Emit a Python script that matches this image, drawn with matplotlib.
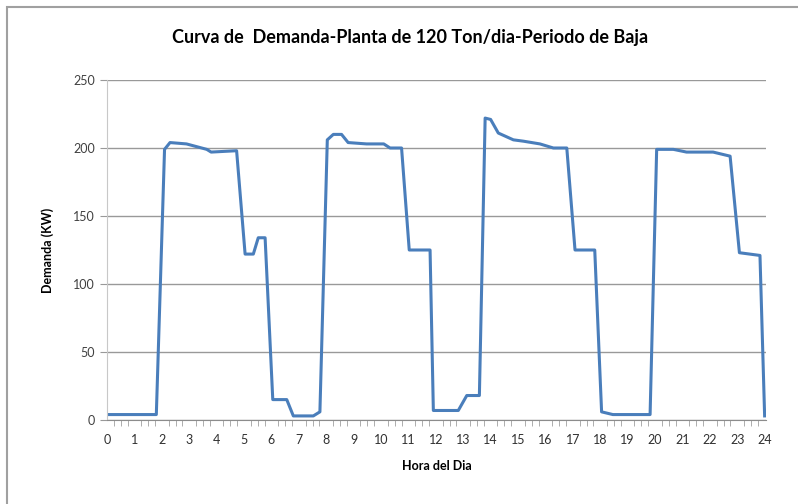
import matplotlib.pyplot as plt
import matplotlib.patches as patches
import numpy as np

# hora del dia (h) y demanda (kW)
horas = [0.0, 1.8, 2.1, 2.3, 2.9, 3.27, 3.64, 3.8, 4.73,
         5.04, 5.34, 5.52, 5.77,
         6.05, 6.56, 6.8, 7.53, 7.77,
         8.04, 8.26, 8.56, 8.8, 9.47, 9.95, 10.1, 10.33, 10.75,
         11.03, 11.79,
         11.91, 12.82, 13.13, 13.59,
         13.8, 14.0, 14.28, 14.5, 14.83, 15.2, 15.8, 16.29, 16.78,
         17.08, 17.8,
         18.05, 18.46, 19.82,
         20.06, 20.67, 21.15, 22.12, 22.74,
         23.08, 23.83, 24.0]
demanda = [4, 4, 199, 204, 203, 201, 199, 197, 198,
           122, 122, 134, 134,
           15, 15, 3, 3, 6,
           206, 210, 210, 204, 203, 203, 203, 200, 200,
           125, 125,
           7, 7, 18, 18,
           222, 221, 211, 209, 206, 205, 203, 200, 200,
           125, 125,
           6, 4, 4,
           199, 199, 197, 197, 194,
           123, 121, 3]

etiquetas_x = [str(i) for i in range(25)]

fig = plt.figure(figsize=(7.98, 5.04), dpi=100)
ax = fig.add_axes([107/798, 84/504, (766-107)/798, 340/504])

ax.plot(horas, demanda, color='#4A7EBB', linewidth=2.2, solid_joinstyle='round')

ax.set_xlim(0, 24.05)
ax.set_ylim(0, 250)
ax.set_yticks([0, 50, 100, 150, 200, 250])
ax.set_xticks(range(25))
ax.set_xticklabels(etiquetas_x)
ax.set_xticks(np.arange(0, 24.01, 0.25), minor=True)

ax.grid(axis='y', color='#999999', linewidth=1)
ax.set_axisbelow(True)
for s in ['top', 'right']:
    ax.spines[s].set_visible(False)
ax.spines['left'].set_color('#C8C8C8')
ax.spines['bottom'].set_color('#8C8C8C')

ax.tick_params(axis='y', length=5, color='#999999', labelsize=9, labelcolor='#404040')
ax.tick_params(axis='x', which='major', length=0, labelsize=9, pad=10, labelcolor='#303030')
ax.tick_params(axis='x', which='minor', length=4, color='#A0A0A0', direction='out')
for t in ax.get_xticklabels() + ax.get_yticklabels():
    t.set_family('Lato')

fig.text(410/798, 1 - 37/504, 'Curva de  Demanda-Planta de 120 Ton/dia-Periodo de Baja',
         fontsize=13, fontweight='bold', family='Lato', ha='center', va='center')
ax.set_xlabel('Hora del Dia', fontsize=9, fontweight='bold', family='Lato', labelpad=10)
ax.set_ylabel('Demanda (KW)', fontsize=9, fontweight='bold', family='Lato', labelpad=14)

# borde del grafico
fig.add_artist(patches.Rectangle((7/798, -0.1), 2, 1 - 7/504 + 0.1,
                                 transform=fig.transFigure, fill=False,
                                 edgecolor='#A0A0A0', linewidth=1.5))

fig.savefig('out.png', dpi=100)
